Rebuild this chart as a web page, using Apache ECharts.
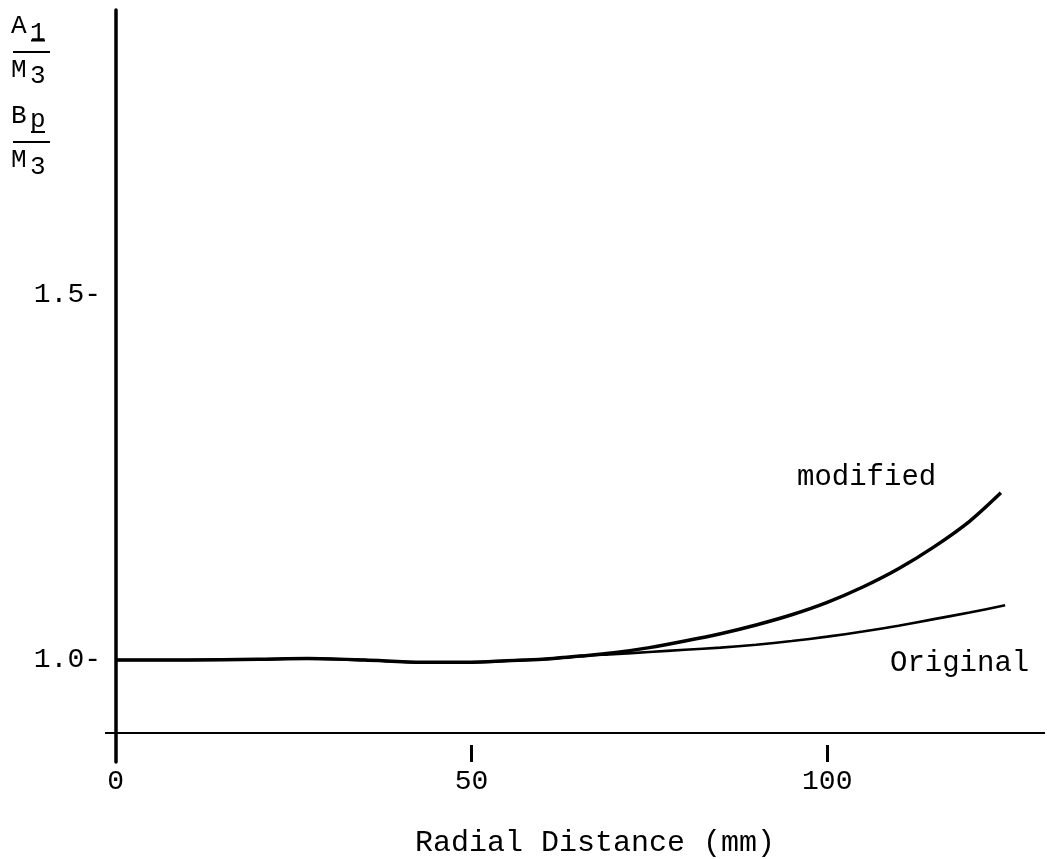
<!DOCTYPE html>
<html>
<head>
<meta charset="utf-8">
<script src="https://cdn.jsdelivr.net/npm/echarts@6/dist/echarts.min.js"></script>
<style>html,body{margin:0;padding:0;background:#fff}#c{width:1047px;height:859px}</style>
</head>
<body>
<div id="c"></div>
<script>
// Data
const modifiedX = [0, 10, 20, 27, 35, 43, 50, 55, 60, 66, 70, 75, 80, 85, 90, 95, 100, 105, 110, 115, 120, 124.4];
const modifiedY = [1.000, 1.000, 1.001, 1.002, 1.000, 0.997, 0.997, 0.999, 1.001, 1.006, 1.010, 1.017, 1.026, 1.036, 1.048, 1.062, 1.079, 1.100, 1.125, 1.155, 1.190, 1.229];
const originalX = [0, 10, 20, 27, 35, 43, 50, 55, 60, 66, 70, 75, 80, 85, 90, 95, 100, 105, 110, 115, 120, 125];
const originalY = [1.000, 1.000, 1.001, 1.002, 1.000, 0.997, 0.997, 0.999, 1.001, 1.006, 1.008, 1.011, 1.014, 1.017, 1.021, 1.026, 1.032, 1.039, 1.047, 1.056, 1.065, 1.075];
const xTickValues = [50, 100];
const xLabelValues = [0, 50, 100];
const yLabelValues = [1.0, 1.5];
const baseLineValue = 0.9;

const FONT = '"Liberation Mono", "DejaVu Sans Mono", monospace';
const chart = echarts.init(document.getElementById('c'), null, {renderer: 'canvas'});

function pairs(xs, ys) { return xs.map((x, i) => [x, ys[i]]); }

function txt(t, x, y, size) {
  return {type: 'text', x: x, y: y, silent: true,
    style: {text: t, fill: '#000', font: size + 'px ' + FONT, verticalAlign: 'middle', align: 'left'}};
}
function ln(x1, y1, x2, y2, w) {
  return {type: 'line', silent: true, shape: {x1, y1, x2, y2}, style: {stroke: '#000', lineWidth: w}};
}

chart.setOption({
  backgroundColor: '#fff',
  animation: false,
  grid: {left: 105, right: 2, top: 10, bottom: 97, containLabel: false, outerBoundsMode: 'none'},
  xAxis: {
    type: 'value', min: -1.5, max: 130.6,
    axisLine: {show: false},
    splitLine: {show: false},
    axisTick: {show: true, inside: true, length: 17, customValues: xTickValues,
      lineStyle: {color: '#000', width: 3}},
    axisLabel: {customValues: xLabelValues, margin: 6, color: '#000', fontFamily: FONT, fontSize: 28},
    name: 'Radial Distance (mm)', nameLocation: 'middle', nameGap: 66,
    nameTextStyle: {color: '#000', fontFamily: FONT, fontSize: 30, padding: [0, 0, 0, 40]}
  },
  yAxis: {
    type: 'value', min: 0.8603, max: 1.8904,
    axisLine: {show: true, onZero: true, lineStyle: {color: '#000', width: 3.5}},
    axisTick: {show: false},
    splitLine: {show: false},
    axisLabel: {customValues: yLabelValues, margin: 4, color: '#000', fontFamily: FONT, fontSize: 28,
      formatter: v => v.toFixed(1) + '-'}
  },
  series: [
    {
      name: 'modified', type: 'line', data: pairs(modifiedX, modifiedY),
      smooth: 0.3, symbol: 'none', lineStyle: {color: '#000', width: 3.5},
      markLine: {silent: true, symbol: 'none', label: {show: false},
        lineStyle: {color: '#000', width: 2, type: 'solid'},
        data: [{yAxis: baseLineValue}]}
    },
    {
      name: 'Original', type: 'line', data: pairs(originalX, originalY),
      smooth: 0.3, symbol: 'none', lineStyle: {color: '#000', width: 2.6}
    }
  ],
  graphic: [
    txt('A', 11, 26.5, 26), txt('1', 30, 33, 26), ln(31, 40.5, 45, 40.5, 2),
    ln(13, 52, 50, 52, 2.2),
    txt('M', 11, 70, 26), txt('3', 30, 76, 26),
    txt('B', 11, 116, 26), txt('p', 30, 120, 26), ln(31, 132, 45, 132, 2),
    ln(13, 142, 50, 142, 2.2),
    txt('M', 11, 160, 26), txt('3', 30, 167.5, 26),
    txt('modified', 797, 477, 29),
    txt('Original', 890, 663, 29)
  ]
});
</script>
</body>
</html>
